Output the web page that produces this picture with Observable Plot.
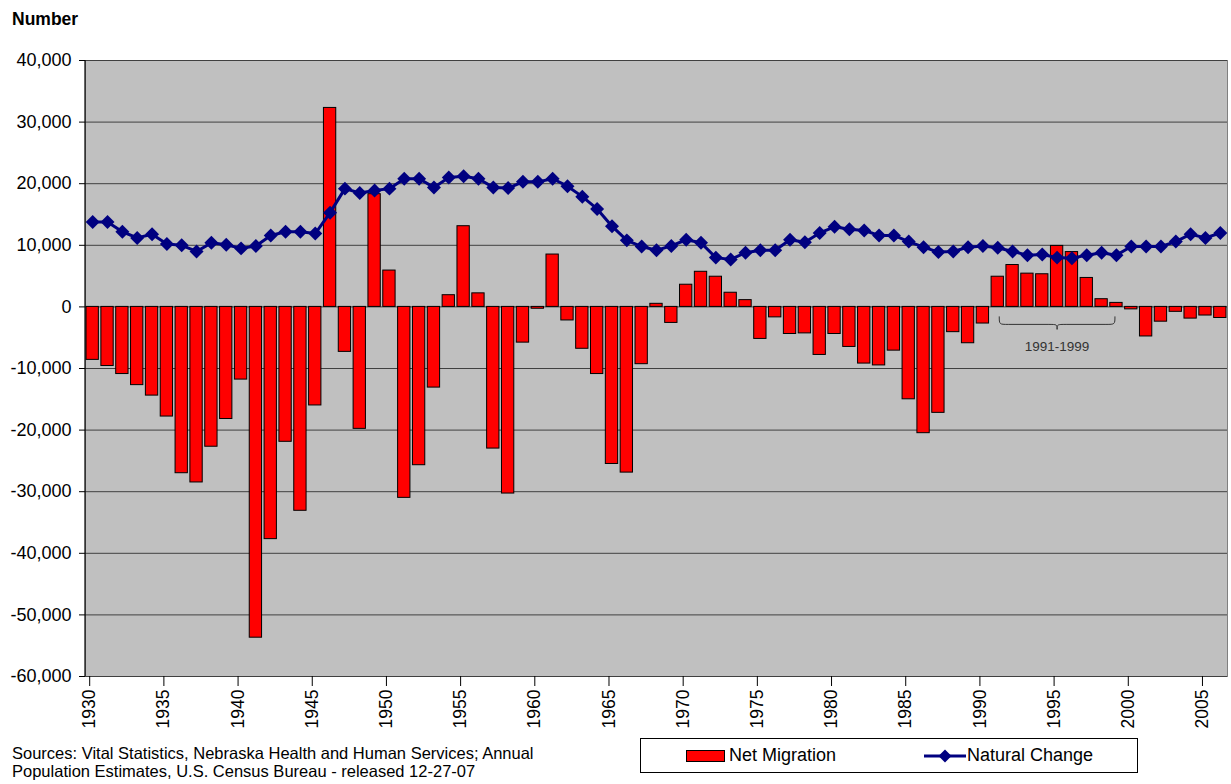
<!DOCTYPE html>
<html><head><meta charset="utf-8">
<script src="https://cdn.jsdelivr.net/npm/d3@7"></script>
<script src="https://cdn.jsdelivr.net/npm/@observablehq/plot@0.6"></script>
<style>
body{margin:0;background:#fff;font-family:"Liberation Sans",Arial,sans-serif;color:#000;}
#wrap{position:relative;width:1231px;height:784px;overflow:hidden;}
#ylabel{position:absolute;left:12px;top:9px;font-weight:bold;font-size:17.5px;}
#caption{position:absolute;left:12px;top:744px;font-size:16.5px;line-height:18px;white-space:nowrap;}
#legend{position:absolute;left:640px;top:738px;width:496px;height:33px;border:1px solid #000;background:#fff;font-size:18px;}
.li{position:absolute;top:0;height:33px;display:flex;align-items:center;white-space:nowrap;}
.sw{display:inline-block;width:37px;height:10px;background:#ff0000;border:1px solid #000;margin-right:4px;}
</style></head>
<body><div id="wrap">
<div id="ylabel">Number</div>
<div id="legend">
  <div class="li" style="left:45px"><span class="sw"></span>Net Migration</div>
  <div class="li" style="left:283px"><svg width="42" height="14" style="margin-right:1px"><line x1="0" y1="7" x2="42" y2="7" stroke="#000080" stroke-width="3"/><path d="M21,0.5 L27.5,7 L21,13.5 L14.5,7 Z" fill="#000080"/></svg>Natural Change</div>
</div>
<div id="caption">Sources: Vital Statistics, Nebraska Health and Human Services; Annual<br>Population Estimates, U.S. Census Bureau - released 12-27-07</div>
</div>
<script>
const years = d3.range(1930, 2007);
const netMigration = [
  -8600, -9600, -10900, -12700, -14400, -17800, -27000, -28500, -22700, -18200,
  -11800, -53700, -37700, -21900, -33100, -16000, 32300, -7300, -19800, 18300,
  5900, -31000, -25700, -13100, 1900, 13100, 2200, -23000, -30300, -5800,
  -300, 8500, -2200, -6800, -10900, -25500, -26900, -9300, 500, -2600,
  3600, 5700, 4900, 2300, 1100, -5200, -1700, -4400, -4300, -7800,
  -4400, -6500, -9200, -9500, -7100, -15000, -20500, -17200, -4100, -5900,
  -2700, 4900, 6800, 5400, 5300, 9900, 8900, 4700, 1250, 650,
  -400, -4800, -2400, -800, -1900, -1400, -1800
];
const naturalChange = [
  13800, 13800, 12200, 11200, 11800, 10200, 10000, 9000, 10400, 10100,
  9500, 9900, 11600, 12200, 12200, 11900, 15300, 19200, 18500, 18900,
  19200, 20800, 20800, 19400, 21000, 21200, 20800, 19400, 19300, 20300,
  20300, 20800, 19600, 17900, 15900, 13100, 10800, 9800, 9200, 9900,
  10900, 10400, 8000, 7700, 8800, 9200, 9200, 10900, 10500, 12000,
  13000, 12600, 12400, 11600, 11600, 10600, 9700, 8900, 9000, 9700,
  9900, 9600, 9000, 8400, 8500, 8000, 7900, 8400, 8800, 8400,
  9800, 9800, 9800, 10600, 11800, 11200, 12000
];
const yTicks = [-60000, -50000, -40000, -30000, -20000, -10000, 0, 10000, 20000, 30000, 40000];
const xTicks = [1930, 1935, 1940, 1945, 1950, 1955, 1960, 1965, 1970, 1975, 1980, 1985, 1990, 1995, 2000, 2005];
const braceRange = [1991, 1999];
const braceLabel = "1991-1999";

const data = years.map((year, i) => ({year, net: netMigration[i], nat: naturalChange[i]}));

const chart = Plot.plot({
  width: 1231, height: 784,
  marginLeft: 85, marginRight: 4, marginTop: 60, marginBottom: 108,
  style: {fontFamily: "Liberation Sans, Arial, sans-serif", fontSize: "18px", color: "#000", background: "transparent", overflow: "visible"},
  x: {type: "band", domain: years, paddingInner: 0.17, paddingOuter: 0.07},
  y: {domain: [-60000, 40000]},
  marks: [
    Plot.frame({fill: "#c0c0c0", stroke: "#808080"}),
    Plot.gridY(yTicks, {stroke: "#404040", strokeOpacity: 1, strokeWidth: 1}),
    Plot.barY(data, {x: "year", y: "net", fill: "#ff0000", stroke: "#000", strokeWidth: 1}),
    Plot.line(data, {x: "year", y: "nat", stroke: "#000080", strokeWidth: 3}),
    Plot.dot(data, {x: "year", y: "nat", symbol: "diamond2", r: 6.3, fill: "#000080", stroke: "none"}),
    Plot.axisY(yTicks, {tickSize: 6, tickPadding: 8, label: null, fontSize: 18, tickFormat: d => d.toLocaleString("en-US")}),
    Plot.axisX(xTicks, {tickSize: 10, tickPadding: 3, tickRotate: -90, label: null, fontSize: 17.5, dx: -3, tickFormat: d => String(d)})
  ]
});

const xs = chart.scale("x"), ys = chart.scale("y");
const svg = d3.select(chart);
// left axis line
svg.append("line")
  .attr("x1", xs.range[0]).attr("x2", xs.range[0])
  .attr("y1", ys.apply(40000)).attr("y2", ys.apply(-60000))
  .attr("stroke", "#000").attr("stroke-width", 1.2);
// brace annotation
const bw = xs.bandwidth;
const x1 = xs.apply(braceRange[0]) + bw / 2 + 2;
const x2 = xs.apply(braceRange[1]) + bw / 2 - 1;
const xm = (x1 + x2) / 2;
const y0 = ys.apply(0);
const yt = y0 + 10, ym = y0 + 18, ytip = y0 + 23;
svg.append("path")
  .attr("d", `M${x1},${yt} C${x1},${ym} ${x1},${ym} ${x1+9},${ym} L${xm-9},${ym} C${xm},${ym} ${xm},${ym} ${xm},${ytip} C${xm},${ym} ${xm},${ym} ${xm+9},${ym} L${x2-9},${ym} C${x2},${ym} ${x2},${ym} ${x2},${yt}`)
  .attr("fill", "none").attr("stroke", "#333").attr("stroke-width", 1);
svg.append("text")
  .attr("x", xm).attr("y", y0 + 44.5)
  .attr("text-anchor", "middle").attr("fill", "#333")
  .attr("font-size", 13.5)
  .text(braceLabel);

document.getElementById("wrap").prepend(chart);
chart.style.position = "absolute";
chart.style.left = "0px";
chart.style.top = "0px";
</script>
</body></html>
